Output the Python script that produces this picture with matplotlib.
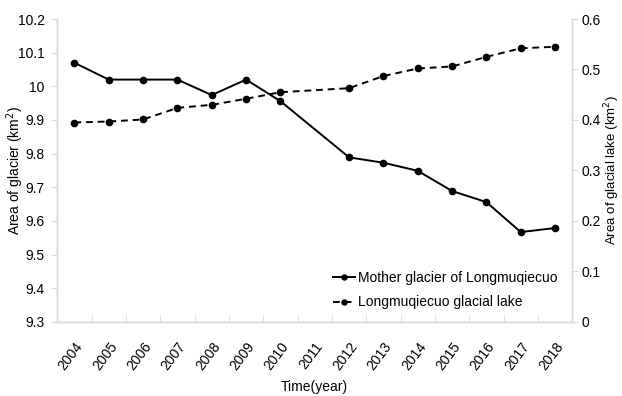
import numpy as np
import matplotlib
matplotlib.use("Agg")
import matplotlib.pyplot as plt

plt.rcParams['font.family'] = ['Liberation Sans', 'DejaVu Sans']

years = ["2004","2005","2006","2007","2008","2009","2010","2011",
         "2012","2013","2014","2015","2016","2017","2018"]
# 2011 has no observation
glacier_area = [10.07,10.02,10.02,10.02,9.974,10.02,9.956,np.nan,
                9.789,9.773,9.749,9.689,9.656,9.567,9.579]
lake_area = [0.395,0.397,0.401,0.424,0.430,0.442,0.455,np.nan,
             0.463,0.487,0.502,0.506,0.525,0.542,0.545]

grey = "#d9d9d9"
fs = 10
x = np.arange(len(years))
g = np.array(glacier_area)
l = np.array(lake_area)
ok_g = ~np.isnan(g)
ok_l = ~np.isnan(l)

fig, ax = plt.subplots(figsize=(6.22,3.96), dpi=100)
fig.subplots_adjust(left=0.092, right=0.92, top=0.952, bottom=0.187)
ax2 = ax.twinx()

h1, = ax.plot(x[ok_g], g[ok_g], "-o", color="black", lw=1.4, ms=4.5,
              label="Mother glacier of Longmuqiecuo")
h2, = ax2.plot(x[ok_l], l[ok_l], "--o", color="black", lw=1.4, ms=4.5,
               dashes=(3.5,2.5), label="Longmuqiecuo glacial lake")

ax.set_xlim(-0.5, len(years)-0.5)
ax.set_ylim(9.3, 10.2)
ax.set_yticks(np.arange(9.3, 10.21, 0.1))
ax.set_yticklabels(["9.3","9.4","9.5","9.6","9.7","9.8","9.9","10","10.1","10.2"])
ax2.set_ylim(0, 0.6)
ax2.set_yticks(np.arange(0, 0.61, 0.1))
ax2.set_yticklabels(["0","0.1","0.2","0.3","0.4","0.5","0.6"])

ax.set_xticks(x)
ax.set_xticklabels(years, rotation=53, ha="right", rotation_mode="anchor", fontsize=fs)
ax.tick_params(axis="x", length=0, pad=13)
# category boundary ticks pointing up into the plot
ax.set_xticks(np.arange(-0.5, len(years)), minor=True)
ax.tick_params(axis="x", which="minor", direction="in", length=5, color=grey)

ax.tick_params(axis="y", labelsize=fs, length=4, color=grey, pad=5)
ax2.tick_params(axis="y", labelsize=fs, length=4, color=grey, pad=3)

for a in (ax, ax2):
    a.spines["top"].set_visible(False)
    for s in ("left","right","bottom"):
        a.spines[s].set_color(grey)
        a.spines[s].set_linewidth(1.0)

ax.set_ylabel("Area of glacier (km$^2$)", fontsize=fs, va="center")
ax.yaxis.set_label_coords(-0.081, 0.5)
ax2.set_ylabel("Area of glacial lake (km$^2$)", fontsize=9.5, va="center")
ax2.yaxis.set_label_coords(1.077, 0.5)
ax.set_xlabel("Time(year)", fontsize=fs, va="center")
ax.xaxis.set_label_coords(0.5, -0.215)

ax2.legend(handles=[h1, h2], loc="lower right", bbox_to_anchor=(0.995, 0.0),
           frameon=False, fontsize=fs, handlelength=1.6, handletextpad=0.2,
           labelspacing=0.75, markerscale=0.8)

fig.savefig("out.png", dpi=100)
